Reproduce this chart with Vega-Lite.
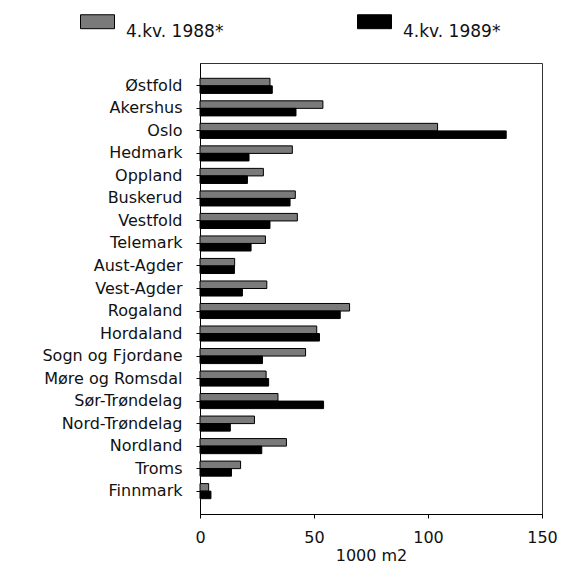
{
  "$schema": "https://vega.github.io/schema/vega-lite/v6.json",
  "width": 342,
  "height": 451,
  "autosize": {"type": "none"},
  "padding": {"left": 200, "top": 63, "right": 33, "bottom": 61},
  "background": "white",
  "config": {
    "view": {"stroke": "#333333", "strokeWidth": 1},
    "font": "DejaVu Sans"
  },
  "data": {
    "values": [
      {"fylke": "Østfold", "periode": "4.kv. 1988*", "verdi": 30.7},
      {"fylke": "Østfold", "periode": "4.kv. 1989*", "verdi": 31.7},
      {"fylke": "Akershus", "periode": "4.kv. 1988*", "verdi": 53.9},
      {"fylke": "Akershus", "periode": "4.kv. 1989*", "verdi": 42.1},
      {"fylke": "Oslo", "periode": "4.kv. 1988*", "verdi": 104.2},
      {"fylke": "Oslo", "periode": "4.kv. 1989*", "verdi": 134.3},
      {"fylke": "Hedmark", "periode": "4.kv. 1988*", "verdi": 40.5},
      {"fylke": "Hedmark", "periode": "4.kv. 1989*", "verdi": 21.5},
      {"fylke": "Oppland", "periode": "4.kv. 1988*", "verdi": 27.8},
      {"fylke": "Oppland", "periode": "4.kv. 1989*", "verdi": 20.8},
      {"fylke": "Buskerud", "periode": "4.kv. 1988*", "verdi": 41.8},
      {"fylke": "Buskerud", "periode": "4.kv. 1989*", "verdi": 39.5},
      {"fylke": "Vestfold", "periode": "4.kv. 1988*", "verdi": 42.7},
      {"fylke": "Vestfold", "periode": "4.kv. 1989*", "verdi": 30.7},
      {"fylke": "Telemark", "periode": "4.kv. 1988*", "verdi": 28.7},
      {"fylke": "Telemark", "periode": "4.kv. 1989*", "verdi": 22.4},
      {"fylke": "Aust-Agder", "periode": "4.kv. 1988*", "verdi": 15.2},
      {"fylke": "Aust-Agder", "periode": "4.kv. 1989*", "verdi": 15.1},
      {"fylke": "Vest-Agder", "periode": "4.kv. 1988*", "verdi": 29.3},
      {"fylke": "Vest-Agder", "periode": "4.kv. 1989*", "verdi": 18.6},
      {"fylke": "Rogaland", "periode": "4.kv. 1988*", "verdi": 65.6},
      {"fylke": "Rogaland", "periode": "4.kv. 1989*", "verdi": 61.5},
      {"fylke": "Hordaland", "periode": "4.kv. 1988*", "verdi": 51.2},
      {"fylke": "Hordaland", "periode": "4.kv. 1989*", "verdi": 52.4},
      {"fylke": "Sogn og Fjordane", "periode": "4.kv. 1988*", "verdi": 46.3},
      {"fylke": "Sogn og Fjordane", "periode": "4.kv. 1989*", "verdi": 27.4},
      {"fylke": "Møre og Romsdal", "periode": "4.kv. 1988*", "verdi": 29.0},
      {"fylke": "Møre og Romsdal", "periode": "4.kv. 1989*", "verdi": 30.1},
      {"fylke": "Sør-Trøndelag", "periode": "4.kv. 1988*", "verdi": 34.2},
      {"fylke": "Sør-Trøndelag", "periode": "4.kv. 1989*", "verdi": 54.2},
      {"fylke": "Nord-Trøndelag", "periode": "4.kv. 1988*", "verdi": 23.9},
      {"fylke": "Nord-Trøndelag", "periode": "4.kv. 1989*", "verdi": 13.3},
      {"fylke": "Nordland", "periode": "4.kv. 1988*", "verdi": 37.9},
      {"fylke": "Nordland", "periode": "4.kv. 1989*", "verdi": 27.1},
      {"fylke": "Troms", "periode": "4.kv. 1988*", "verdi": 17.8},
      {"fylke": "Troms", "periode": "4.kv. 1989*", "verdi": 13.8},
      {"fylke": "Finnmark", "periode": "4.kv. 1988*", "verdi": 3.8},
      {"fylke": "Finnmark", "periode": "4.kv. 1989*", "verdi": 4.8}
    ]
  },
  "mark": {"type": "bar", "stroke": "black", "strokeWidth": 1},
  "encoding": {
    "y": {
      "field": "fylke",
      "type": "nominal",
      "sort": null,
      "scale": {"paddingInner": 0.33, "paddingOuter": 0.68},
      "axis": {
        "title": null,
        "domainColor": "black",
        "tickColor": "black",
        "tickSize": 4,
        "labelPadding": 14,
        "labelFontSize": 16,
        "labelColor": "#111111",
        "labelFont": "DejaVu Sans"
      }
    },
    "yOffset": {
      "field": "periode",
      "type": "nominal",
      "sort": null,
      "scale": {"paddingInner": 0, "paddingOuter": 0}
    },
    "x": {
      "field": "verdi",
      "type": "quantitative",
      "scale": {"domain": [0, 150], "nice": false},
      "axis": {
        "title": "1000 m2",
        "values": [0, 50, 100, 150],
        "grid": false,
        "labelFlush": false,
        "domainColor": "black",
        "tickColor": "black",
        "tickSize": 4,
        "labelPadding": 11,
        "labelFontSize": 16,
        "labelColor": "#111111",
        "labelFont": "DejaVu Sans",
        "titleFont": "DejaVu Sans",
        "titleFontSize": 16,
        "titleFontWeight": "normal",
        "titleColor": "#111111",
        "titlePadding": 2
      }
    },
    "color": {
      "field": "periode",
      "type": "nominal",
      "sort": null,
      "scale": {"domain": ["4.kv. 1988*", "4.kv. 1989*"], "range": ["#7a7a7a", "#000000"]},
      "legend": {
        "title": null,
        "orient": "none",
        "legendX": -120,
        "legendY": -49,
        "direction": "horizontal",
        "columns": 2,
        "columnPadding": 131,
        "padding": 0,
        "symbolType": "M-1,-1H1V-0.18H-1Z",
        "symbolSize": 1156,
        "symbolStrokeColor": "black",
        "symbolStrokeWidth": 1,
        "symbolOpacity": 1,
        "labelFont": "DejaVu Sans",
        "labelFontSize": 17,
        "labelColor": "#111111",
        "labelOffset": 11
      }
    }
  }
}
